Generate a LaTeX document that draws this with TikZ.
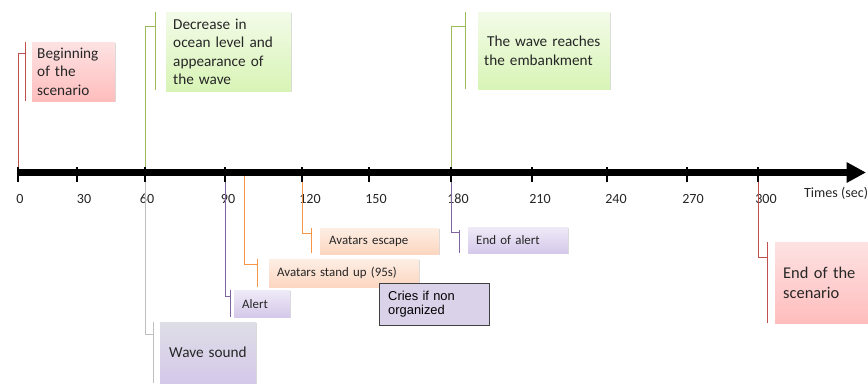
\documentclass[tikz,border=0pt]{standalone}
\usepackage{fontspec}
\setmainfont{Carlito}
\newfontfamily\arialfont{Liberation Sans}
\usepackage{xcolor}
\usepackage{tikz}
\usetikzlibrary{arrows.meta,calc,shadows}

\definecolor{redln}{HTML}{C0504D}
\definecolor{greenln}{HTML}{9BBB59}
\definecolor{orangeln}{HTML}{F79646}
\definecolor{purpleln}{HTML}{8064A2}
\definecolor{grayln}{HTML}{BFBFBF}
\definecolor{pinktop}{HTML}{FDE2E2}
\definecolor{pinkbot}{HTML}{FFBDBD}
\definecolor{greentop}{HTML}{F3FBE8}
\definecolor{greenbot}{HTML}{D8F4B6}
\definecolor{peachtop}{HTML}{FDEEE4}
\definecolor{peachbot}{HTML}{FCD6C0}
\definecolor{lilactop}{HTML}{EFEAF7}
\definecolor{lilacbot}{HTML}{D5C8EA}
\definecolor{greytop}{HTML}{DEDEE6}
\definecolor{criesfill}{HTML}{D9D2E9}

\begin{document}
\begin{tikzpicture}[
        x=0.03cm, y=-0.03cm,
        box/.style={anchor=north west, align=left, inner ysep=1pt, text=black!85,
            drop shadow={shadow xshift=0.7pt, shadow yshift=-0.7pt, opacity=0.3}},
        big/.style={font=\fontsize{13}{15.5}\selectfont},
        small/.style={font=\fontsize{11}{13}\selectfont},
        pinkbox/.style={box, big, top color=pinktop, bottom color=pinkbot},
        greenbox/.style={box, big, top color=greentop, bottom color=greenbot},
        peachbox/.style={box, small, top color=peachtop, bottom color=peachbot},
        lilacbox/.style={box, small, top color=lilactop, bottom color=lilacbot},
        soundbox/.style={box, big, top color=greytop, bottom color=lilacbot},
        criesbox/.style={anchor=north west, align=left, draw=black!75, fill=criesfill,
            font=\arialfont\fontsize{11}{12.5}\selectfont, inner ysep=1pt},
        num/.style={font=\fontsize{12}{14}\selectfont, text=black!85},
        axisline/.style={line width=5.5pt, -{Triangle[length=0.58cm, width=0.58cm]}},
        tick/.style={line width=2.5pt},
        redline/.style={redln, line width=0.7pt},
        greenline/.style={greenln, line width=0.7pt},
        orangeline/.style={orangeln, line width=0.7pt},
        purpleline/.style={purpleln, line width=0.7pt},
        grayline/.style={grayln, line width=0.7pt}
    ]
        \useasboundingbox (0,0) rectangle (868,383);

        % Time ticks and numbers
        \foreach \x/\t/\l in {18/0/20,77/30/84,145/60/147,225/90/228,302/120/310,369/150/376,451/180/458,532/210/540,607/240/616,687/270/693,758/300/766} {
            \coordinate (t\t) at (\x,172.5);
            \node[num] (n\t) at (\l,198.5) {\t};
        }
        \coordinate (t95) at (244,172.5);
        \coordinate (tip) at (866,172.5);
        \node[num, anchor=west] (unit) at (800,193) {Times (sec)};

        % Beginning of the scenario
        \node[pinkbox, text width=2.19cm, minimum height=1.77cm, inner xsep=0.15cm] (bos) at (32,42) {Beginning\\of the\\scenario};

        % Decrease in ocean level
        \node[greenbox, text width=3.33cm, minimum height=2.37cm, inner xsep=0.21cm] (dec) at (166,12) {Decrease in\\ocean level and\\appearance of\\the wave};

        % Wave reaches the embankment
        \node[greenbox, text width=3.6cm, minimum height=2.31cm, inner xsep=0.18cm] (reach) at (478,12) {\hspace*{2.5pt}The wave reaches\\the embankment};

        % End of the scenario
        \node[pinkbox, text width=2.31cm, minimum height=2.43cm, inner xsep=0.24cm, font=\fontsize{14}{17}\selectfont] (eos) at (775,242) {End of the\\scenario};

        % Avatars
        \node[peachbox, text width=3.03cm, minimum height=0.78cm, inner xsep=0.27cm] (esc) at (320,228) {Avatars escape};
        \node[peachbox, text width=4.02cm, minimum height=0.84cm, inner xsep=0.24cm] (stand) at (269,259) {Avatars stand up (95s)};

        % Alerts
        \node[lilacbox, text width=1.2cm, minimum height=0.81cm, inner xsep=0.24cm] (alert) at (234,290) {Alert};
        \node[lilacbox, text width=2.52cm, minimum height=0.78cm, inner xsep=0.24cm] (endal) at (468,227) {End of alert};

        % Sounds
        \node[soundbox, text width=2.34cm, minimum height=1.83cm, inner xsep=0.27cm] (wave) at (160,322) {Wave sound};
        \node[criesbox, text width=2.76cm, minimum height=1.26cm, inner xsep=0.27cm] (cries) at (379,283) {Cries if non\\organized};

        % Connectors
        \draw[redline] (t0) |- ($(bos.north west)+(-7,11)$);
        \draw[redline] ($(bos.north west)+(-7,0)$) -- ($(bos.south west)+(-7,0)$);
        \draw[greenline] (t60) |- ($(dec.north west)+(-11,14)$);
        \draw[greenline] ($(dec.north west)+(-11,0)$) -- ($(dec.south west)+(-11,-1)$);
        \draw[greenline] (t180) |- ($(reach.north west)+(-13,14)$);
        \draw[greenline] ($(reach.north west)+(-13,0)$) -- ($(reach.south west)+(-13,0)$);
        \draw[redline] (t300) |- ($(eos.north west)+(-8,15)$);
        \draw[redline] ($(eos.north west)+(-8,0)$) -- ($(eos.south west)+(-8,0)$);
        \draw[orangeline] (t120) |- ($(esc.north west)+(-9,5)$);
        \draw[orangeline] ($(esc.north west)+(-9,0)$) -- ($(esc.south west)+(-9,-1)$);
        \draw[orangeline] (t95) |- ($(stand.north west)+(-12,5)$);
        \draw[orangeline] ($(stand.north west)+(-12,0)$) -- ($(stand.south west)+(-12,0)$);
        \draw[purpleline] (t90) |- ($(alert.north west)+(-4,6)$);
        \draw[purpleline] ($(alert.north west)+(-4,0)$) -- ($(alert.south west)+(-4,0)$);
        \draw[purpleline] (t180) |- ($(endal.north west)+(-9,5)$);
        \draw[purpleline] ($(endal.north west)+(-9,3)$) -- ($(endal.south west)+(-9,0)$);
        \draw[grayline] (t60) |- ($(wave.north west)+(-7,12)$);
        \draw[grayline] ($(wave.north west)+(-7,0)$) -- ($(wave.south west)+(-7,0)$);

        % Time axis
        \draw[axisline] ($(t0)+(-1,0)$) -- (tip);
        \foreach \t in {0,30,60,90,120,150,180,210,240,270,300} {
            \draw[tick] ($(t\t)+(0,-5.5)$) -- ($(t\t)+(0,9.5)$);
        }
\end{tikzpicture}
\end{document}
